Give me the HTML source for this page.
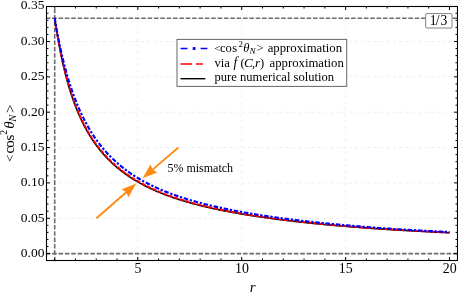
<!DOCTYPE html><html><head><meta charset="utf-8"><style>html,body{margin:0;padding:0;background:#fff}body{width:458px;height:295px;overflow:hidden;font-family:"Liberation Serif",serif}</style></head><body><svg width="458" height="295" viewBox="0 0 458 295" style="display:block;will-change:transform">
<rect x="0" y="0" width="458" height="295" fill="#fff"/>
<g stroke="#eeeeee" stroke-width="1" stroke-dasharray="3 3.3" fill="none"><line x1="137.82" y1="6.50" x2="137.82" y2="260.50"/><line x1="241.71" y1="6.50" x2="241.71" y2="260.50"/><line x1="345.61" y1="6.50" x2="345.61" y2="260.50"/><line x1="46.50" y1="218.25" x2="457.50" y2="218.25"/><line x1="46.50" y1="182.90" x2="457.50" y2="182.90"/><line x1="46.50" y1="147.55" x2="457.50" y2="147.55"/><line x1="46.50" y1="112.20" x2="457.50" y2="112.20"/><line x1="46.50" y1="76.85" x2="457.50" y2="76.85"/><line x1="46.50" y1="41.50" x2="457.50" y2="41.50"/></g>
<g stroke="#6c6c6c" stroke-width="1.6" stroke-dasharray="4.6 1.761" fill="none">
<line x1="54.70" y1="261.30" x2="54.70" y2="6.50"/>
<line x1="45.80" y1="18.18" x2="457.50" y2="18.18"/>
<line x1="45.80" y1="253.60" x2="457.50" y2="253.60"/>
</g>
<path d="M54.70 17.93 L54.73 18.12 L54.78 18.51 L54.86 19.03 L54.95 19.66 L55.06 20.40 L55.18 21.22 L55.31 22.12 L55.46 23.09 L55.61 24.13 L55.78 25.23 L55.96 26.39 L56.14 27.60 L56.34 28.85 L56.55 30.15 L56.76 31.49 L56.99 32.87 L57.22 34.28 L57.46 35.72 L57.71 37.19 L57.97 38.68 L58.24 40.20 L58.51 41.74 L58.79 43.29 L59.08 44.86 L59.38 46.45 L59.68 48.05 L59.99 49.66 L60.30 51.27 L60.63 52.90 L60.96 54.53 L61.30 56.16 L61.64 57.80 L61.99 59.44 L62.35 61.08 L62.71 62.72 L63.08 64.36 L63.45 66.00 L63.84 67.63 L64.22 69.26 L64.62 70.88 L65.02 72.50 L65.42 74.11 L65.83 75.71 L66.25 77.30 L66.67 78.89 L67.10 80.47 L67.54 82.03 L67.98 83.59 L68.42 85.14 L68.87 86.67 L69.33 88.20 L69.79 89.71 L70.26 91.21 L70.73 92.70 L71.21 94.18 L71.69 95.64 L72.18 97.10 L72.67 98.54 L73.17 99.96 L73.67 101.37 L74.18 102.77 L74.69 104.16 L75.21 105.53 L75.74 106.89 L76.26 108.24 L76.80 109.57 L77.34 110.89 L77.88 112.19 L78.43 113.49 L78.98 114.76 L79.54 116.03 L80.10 117.28 L80.67 118.52 L81.24 119.74 L81.81 120.95 L82.39 122.15 L82.98 123.33 L83.57 124.50 L84.16 125.66 L84.76 126.81 L85.37 127.94 L85.97 129.06 L86.59 130.16 L87.20 131.26 L87.82 132.34 L88.45 133.41 L89.08 134.46 L89.71 135.51 L90.35 136.54 L91.00 137.56 L91.64 138.57 L92.30 139.56 L92.95 140.55 L93.61 141.52 L94.28 142.49 L94.95 143.44 L95.62 144.38 L96.30 145.31 L96.98 146.22 L97.66 147.13 L98.35 148.03 L99.04 148.91 L99.74 149.79 L100.44 150.66 L101.15 151.51 L101.86 152.36 L102.57 153.19 L103.29 154.02 L104.01 154.84 L104.74 155.64 L105.47 156.44 L106.20 157.23 L106.94 158.01 L107.68 158.78 L108.43 159.54 L109.18 160.29 L109.93 161.04 L110.69 161.77 L111.45 162.50 L112.21 163.22 L112.98 163.93 L113.76 164.63 L114.53 165.32 L115.31 166.01 L116.10 166.69 L116.88 167.36 L117.67 168.02 L118.47 168.67 L119.27 169.32 L120.07 169.96 L120.88 170.60 L121.69 171.22 L122.50 171.84 L123.32 172.45 L124.14 173.06 L124.97 173.66 L125.79 174.25 L126.63 174.84 L127.46 175.42 L128.30 175.99 L129.14 176.56 L129.99 177.12 L130.84 177.67 L131.69 178.22 L132.55 178.76 L133.41 179.30 L134.28 179.83 L135.15 180.35 L136.02 180.87 L136.89 181.38 L137.77 181.89 L138.65 182.39 L139.54 182.89 L140.43 183.38 L141.32 183.87 L142.21 184.35 L143.11 184.83 L144.02 185.30 L144.92 185.76 L145.83 186.23 L146.75 186.68 L147.66 187.14 L148.58 187.58 L149.51 188.03 L150.43 188.46 L151.36 188.90 L152.29 189.33 L153.23 189.75 L154.17 190.17 L155.12 190.59 L156.06 191.00 L157.01 191.41 L157.97 191.81 L158.92 192.21 L159.88 192.61 L160.85 193.00 L161.81 193.38 L162.78 193.77 L163.76 194.15 L164.73 194.53 L165.71 194.90 L166.69 195.27 L167.68 195.63 L168.67 195.99 L169.66 196.35 L170.66 196.71 L171.66 197.06 L172.66 197.41 L173.67 197.75 L174.67 198.09 L175.69 198.43 L176.70 198.76 L177.72 199.10 L178.74 199.42 L179.77 199.75 L180.79 200.07 L181.82 200.39 L182.86 200.71 L183.90 201.02 L184.94 201.33 L185.98 201.64 L187.03 201.94 L188.08 202.25 L189.13 202.54 L190.18 202.84 L191.24 203.13 L192.30 203.42 L193.37 203.71 L194.44 204.00 L195.51 204.28 L196.58 204.56 L197.66 204.84 L198.74 205.12 L199.83 205.39 L200.91 205.66 L202.00 205.93 L203.09 206.19 L204.19 206.46 L205.29 206.72 L206.39 206.98 L207.49 207.24 L208.60 207.49 L209.71 207.74 L210.83 207.99 L211.94 208.24 L213.06 208.49 L214.19 208.73 L215.31 208.98 L216.44 209.22 L217.57 209.46 L218.71 209.69 L219.84 209.93 L220.98 210.16 L222.13 210.39 L223.27 210.62 L224.42 210.85 L225.57 211.08 L226.73 211.30 L227.89 211.52 L229.05 211.74 L230.21 211.96 L231.38 212.18 L232.55 212.39 L233.72 212.61 L234.90 212.82 L236.07 213.03 L237.26 213.24 L238.44 213.45 L239.63 213.65 L240.82 213.86 L242.01 214.06 L243.20 214.26 L244.40 214.46 L245.60 214.66 L246.81 214.86 L248.01 215.05 L249.22 215.24 L250.44 215.44 L251.65 215.63 L252.87 215.82 L254.09 216.01 L255.31 216.19 L256.54 216.38 L257.77 216.56 L259.00 216.75 L260.24 216.93 L261.48 217.11 L262.72 217.29 L263.96 217.46 L265.21 217.64 L266.45 217.82 L267.71 217.99 L268.96 218.16 L270.22 218.33 L271.48 218.51 L272.74 218.67 L274.01 218.84 L275.27 219.01 L276.54 219.17 L277.82 219.34 L279.09 219.50 L280.37 219.67 L281.65 219.83 L282.94 219.99 L284.23 220.15 L285.52 220.30 L286.81 220.46 L288.10 220.62 L289.40 220.77 L290.70 220.92 L292.01 221.08 L293.31 221.23 L294.62 221.38 L295.93 221.53 L297.25 221.68 L298.56 221.83 L299.88 221.97 L301.21 222.12 L302.53 222.26 L303.86 222.41 L305.19 222.55 L306.52 222.69 L307.86 222.83 L309.19 222.97 L310.54 223.11 L311.88 223.25 L313.23 223.38 L314.57 223.52 L315.92 223.66 L317.28 223.79 L318.64 223.92 L319.99 224.06 L321.36 224.19 L322.72 224.32 L324.09 224.45 L325.46 224.58 L326.83 224.71 L328.20 224.83 L329.58 224.96 L330.96 225.09 L332.34 225.21 L333.73 225.34 L335.12 225.46 L336.51 225.58 L337.90 225.70 L339.30 225.82 L340.69 225.94 L342.10 226.06 L343.50 226.18 L344.90 226.30 L346.31 226.42 L347.72 226.53 L349.14 226.65 L350.55 226.76 L351.97 226.88 L353.39 226.99 L354.82 227.10 L356.24 227.21 L357.67 227.32 L359.10 227.43 L360.54 227.54 L361.97 227.65 L363.41 227.76 L364.85 227.86 L366.30 227.97 L367.74 228.08 L369.19 228.18 L370.64 228.28 L372.10 228.39 L373.55 228.49 L375.01 228.59 L376.47 228.69 L377.94 228.79 L379.40 228.89 L380.87 228.99 L382.34 229.09 L383.82 229.19 L385.29 229.28 L386.77 229.38 L388.25 229.47 L389.74 229.57 L391.22 229.66 L392.71 229.75 L394.20 229.85 L395.70 229.94 L397.19 230.03 L398.69 230.12 L400.19 230.21 L401.70 230.30 L403.20 230.39 L404.71 230.47 L406.22 230.56 L407.73 230.65 L409.25 230.73 L410.77 230.82 L412.29 230.90 L413.81 230.98 L415.34 231.07 L416.86 231.15 L418.39 231.23 L419.93 231.31 L421.46 231.39 L423.00 231.48 L424.54 231.56 L426.08 231.64 L427.62 231.71 L429.17 231.79 L430.72 231.87 L432.27 231.95 L433.83 232.03 L435.38 232.10 L436.94 232.18 L438.50 232.26 L440.07 232.33 L441.63 232.41 L443.20 232.48 L444.77 232.56 L446.35 232.63 L447.92 232.71 L449.50 232.78" fill="none" stroke="#000" stroke-width="1.6"/>
<path d="M54.70 17.93 L54.73 18.12 L54.78 18.49 L54.86 19.00 L54.95 19.62 L55.06 20.34 L55.18 21.14 L55.31 22.02 L55.46 22.98 L55.61 23.99 L55.78 25.07 L55.96 26.20 L56.14 27.38 L56.34 28.61 L56.55 29.89 L56.76 31.20 L56.99 32.55 L57.22 33.93 L57.46 35.34 L57.71 36.78 L57.97 38.25 L58.24 39.74 L58.51 41.25 L58.79 42.78 L59.08 44.32 L59.38 45.88 L59.68 47.45 L59.99 49.03 L60.30 50.63 L60.63 52.23 L60.96 53.83 L61.30 55.45 L61.64 57.06 L61.99 58.68 L62.35 60.30 L62.71 61.92 L63.08 63.53 L63.45 65.15 L63.84 66.76 L64.22 68.37 L64.62 69.98 L65.02 71.58 L65.42 73.17 L65.83 74.76 L66.25 76.34 L66.67 77.91 L67.10 79.47 L67.54 81.03 L67.98 82.57 L68.42 84.11 L68.87 85.63 L69.33 87.15 L69.79 88.65 L70.26 90.15 L70.73 91.63 L71.21 93.10 L71.69 94.56 L72.18 96.00 L72.67 97.44 L73.17 98.86 L73.67 100.27 L74.18 101.66 L74.69 103.04 L75.21 104.41 L75.74 105.77 L76.26 107.11 L76.80 108.45 L77.34 109.76 L77.88 111.07 L78.43 112.36 L78.98 113.64 L79.54 114.90 L80.10 116.15 L80.67 117.39 L81.24 118.62 L81.81 119.83 L82.39 121.03 L82.98 122.22 L83.57 123.39 L84.16 124.55 L84.76 125.70 L85.37 126.83 L85.97 127.96 L86.59 129.07 L87.20 130.16 L87.82 131.25 L88.45 132.32 L89.08 133.38 L89.71 134.43 L90.35 135.47 L91.00 136.49 L91.64 137.51 L92.30 138.51 L92.95 139.50 L93.61 140.48 L94.28 141.45 L94.95 142.40 L95.62 143.35 L96.30 144.28 L96.98 145.21 L97.66 146.12 L98.35 147.02 L99.04 147.92 L99.74 148.80 L100.44 149.67 L101.15 150.53 L101.86 151.38 L102.57 152.23 L103.29 153.06 L104.01 153.88 L104.74 154.69 L105.47 155.50 L106.20 156.29 L106.94 157.08 L107.68 157.85 L108.43 158.62 L109.18 159.38 L109.93 160.13 L110.69 160.87 L111.45 161.60 L112.21 162.33 L112.98 163.05 L113.76 163.75 L114.53 164.45 L115.31 165.15 L116.10 165.83 L116.88 166.51 L117.67 167.17 L118.47 167.84 L119.27 168.49 L120.07 169.14 L120.88 169.78 L121.69 170.41 L122.50 171.03 L123.32 171.65 L124.14 172.26 L124.97 172.87 L125.79 173.46 L126.63 174.05 L127.46 174.64 L128.30 175.22 L129.14 175.79 L129.99 176.35 L130.84 176.91 L131.69 177.47 L132.55 178.01 L133.41 178.56 L134.28 179.09 L135.15 179.62 L136.02 180.15 L136.89 180.66 L137.77 181.18 L138.65 181.68 L139.54 182.19 L140.43 182.68 L141.32 183.17 L142.21 183.66 L143.11 184.14 L144.02 184.62 L144.92 185.09 L145.83 185.55 L146.75 186.02 L147.66 186.47 L148.58 186.92 L149.51 187.37 L150.43 187.81 L151.36 188.25 L152.29 188.68 L153.23 189.11 L154.17 189.54 L155.12 189.96 L156.06 190.37 L157.01 190.79 L157.97 191.19 L158.92 191.60 L159.88 192.00 L160.85 192.39 L161.81 192.78 L162.78 193.17 L163.76 193.55 L164.73 193.93 L165.71 194.31 L166.69 194.68 L167.68 195.05 L168.67 195.42 L169.66 195.78 L170.66 196.14 L171.66 196.49 L172.66 196.84 L173.67 197.19 L174.67 197.54 L175.69 197.88 L176.70 198.22 L177.72 198.55 L178.74 198.88 L179.77 199.21 L180.79 199.54 L181.82 199.86 L182.86 200.18 L183.90 200.50 L184.94 200.81 L185.98 201.12 L187.03 201.43 L188.08 201.73 L189.13 202.03 L190.18 202.33 L191.24 202.63 L192.30 202.92 L193.37 203.21 L194.44 203.50 L195.51 203.79 L196.58 204.07 L197.66 204.35 L198.74 204.63 L199.83 204.91 L200.91 205.18 L202.00 205.45 L203.09 205.72 L204.19 205.99 L205.29 206.25 L206.39 206.51 L207.49 206.77 L208.60 207.03 L209.71 207.28 L210.83 207.54 L211.94 207.79 L213.06 208.04 L214.19 208.29 L215.31 208.53 L216.44 208.77 L217.57 209.02 L218.71 209.25 L219.84 209.49 L220.98 209.73 L222.13 209.96 L223.27 210.19 L224.42 210.42 L225.57 210.65 L226.73 210.88 L227.89 211.10 L229.05 211.32 L230.21 211.55 L231.38 211.76 L232.55 211.98 L233.72 212.20 L234.90 212.41 L236.07 212.62 L237.26 212.84 L238.44 213.05 L239.63 213.25 L240.82 213.46 L242.01 213.66 L243.20 213.87 L244.40 214.07 L245.60 214.27 L246.81 214.47 L248.01 214.67 L249.22 214.86 L250.44 215.06 L251.65 215.25 L252.87 215.44 L254.09 215.63 L255.31 215.82 L256.54 216.01 L257.77 216.19 L259.00 216.38 L260.24 216.56 L261.48 216.74 L262.72 216.92 L263.96 217.10 L265.21 217.28 L266.45 217.46 L267.71 217.63 L268.96 217.81 L270.22 217.98 L271.48 218.15 L272.74 218.33 L274.01 218.49 L275.27 218.66 L276.54 218.83 L277.82 219.00 L279.09 219.16 L280.37 219.33 L281.65 219.49 L282.94 219.65 L284.23 219.81 L285.52 219.97 L286.81 220.13 L288.10 220.29 L289.40 220.44 L290.70 220.60 L292.01 220.75 L293.31 220.91 L294.62 221.06 L295.93 221.21 L297.25 221.36 L298.56 221.51 L299.88 221.66 L301.21 221.80 L302.53 221.95 L303.86 222.09 L305.19 222.24 L306.52 222.38 L307.86 222.52 L309.19 222.66 L310.54 222.80 L311.88 222.94 L313.23 223.08 L314.57 223.22 L315.92 223.36 L317.28 223.49 L318.64 223.63 L319.99 223.76 L321.36 223.89 L322.72 224.03 L324.09 224.16 L325.46 224.29 L326.83 224.42 L328.20 224.55 L329.58 224.67 L330.96 224.80 L332.34 224.93 L333.73 225.05 L335.12 225.18 L336.51 225.30 L337.90 225.42 L339.30 225.55 L340.69 225.67 L342.10 225.79 L343.50 225.91 L344.90 226.03 L346.31 226.14 L347.72 226.26 L349.14 226.38 L350.55 226.49 L351.97 226.61 L353.39 226.72 L354.82 226.84 L356.24 226.95 L357.67 227.06 L359.10 227.17 L360.54 227.28 L361.97 227.39 L363.41 227.50 L364.85 227.61 L366.30 227.71 L367.74 227.82 L369.19 227.93 L370.64 228.03 L372.10 228.14 L373.55 228.24 L375.01 228.34 L376.47 228.44 L377.94 228.54 L379.40 228.65 L380.87 228.74 L382.34 228.84 L383.82 228.94 L385.29 229.04 L386.77 229.14 L388.25 229.23 L389.74 229.33 L391.22 229.42 L392.71 229.52 L394.20 229.61 L395.70 229.70 L397.19 229.79 L398.69 229.88 L400.19 229.98 L401.70 230.06 L403.20 230.15 L404.71 230.24 L406.22 230.33 L407.73 230.42 L409.25 230.50 L410.77 230.59 L412.29 230.67 L413.81 230.76 L415.34 230.84 L416.86 230.92 L418.39 231.01 L419.93 231.09 L421.46 231.17 L423.00 231.25 L424.54 231.33 L426.08 231.42 L427.62 231.50 L429.17 231.58 L430.72 231.65 L432.27 231.73 L433.83 231.81 L435.38 231.89 L436.94 231.97 L438.50 232.04 L440.07 232.12 L441.63 232.20 L443.20 232.27 L444.77 232.35 L446.35 232.42 L447.92 232.50 L449.50 232.57" fill="none" stroke="#ff0000" stroke-width="1.9" stroke-dasharray="4.2 1.7"/>
<path d="M54.70 17.93 L54.73 18.10 L54.78 18.43 L54.86 18.89 L54.95 19.44 L55.06 20.09 L55.18 20.81 L55.31 21.60 L55.46 22.45 L55.61 23.37 L55.78 24.33 L55.96 25.36 L56.14 26.42 L56.34 27.53 L56.55 28.69 L56.76 29.88 L56.99 31.10 L57.22 32.36 L57.46 33.65 L57.71 34.96 L57.97 36.30 L58.24 37.67 L58.51 39.05 L58.79 40.46 L59.08 41.88 L59.38 43.32 L59.68 44.77 L59.99 46.24 L60.30 47.72 L60.63 49.20 L60.96 50.70 L61.30 52.21 L61.64 53.72 L61.99 55.23 L62.35 56.75 L62.71 58.28 L63.08 59.80 L63.45 61.33 L63.84 62.86 L64.22 64.39 L64.62 65.91 L65.02 67.44 L65.42 68.96 L65.83 70.48 L66.25 71.99 L66.67 73.50 L67.10 75.00 L67.54 76.50 L67.98 77.99 L68.42 79.48 L68.87 80.96 L69.33 82.43 L69.79 83.89 L70.26 85.35 L70.73 86.79 L71.21 88.23 L71.69 89.66 L72.18 91.08 L72.67 92.49 L73.17 93.89 L73.67 95.27 L74.18 96.65 L74.69 98.02 L75.21 99.38 L75.74 100.72 L76.26 102.06 L76.80 103.38 L77.34 104.70 L77.88 106.00 L78.43 107.29 L78.98 108.57 L79.54 109.83 L80.10 111.09 L80.67 112.33 L81.24 113.57 L81.81 114.79 L82.39 116.00 L82.98 117.19 L83.57 118.38 L84.16 119.55 L84.76 120.71 L85.37 121.86 L85.97 123.00 L86.59 124.13 L87.20 125.25 L87.82 126.35 L88.45 127.44 L89.08 128.53 L89.71 129.60 L90.35 130.66 L91.00 131.70 L91.64 132.74 L92.30 133.77 L92.95 134.78 L93.61 135.78 L94.28 136.78 L94.95 137.76 L95.62 138.73 L96.30 139.69 L96.98 140.64 L97.66 141.58 L98.35 142.51 L99.04 143.43 L99.74 144.34 L100.44 145.24 L101.15 146.13 L101.86 147.01 L102.57 147.88 L103.29 148.74 L104.01 149.59 L104.74 150.43 L105.47 151.26 L106.20 152.08 L106.94 152.90 L107.68 153.70 L108.43 154.49 L109.18 155.28 L109.93 156.06 L110.69 156.83 L111.45 157.59 L112.21 158.34 L112.98 159.08 L113.76 159.82 L114.53 160.55 L115.31 161.26 L116.10 161.98 L116.88 162.68 L117.67 163.37 L118.47 164.06 L119.27 164.74 L120.07 165.41 L120.88 166.08 L121.69 166.74 L122.50 167.39 L123.32 168.03 L124.14 168.67 L124.97 169.30 L125.79 169.92 L126.63 170.54 L127.46 171.14 L128.30 171.75 L129.14 172.34 L129.99 172.93 L130.84 173.52 L131.69 174.09 L132.55 174.66 L133.41 175.23 L134.28 175.79 L135.15 176.34 L136.02 176.88 L136.89 177.43 L137.77 177.96 L138.65 178.49 L139.54 179.01 L140.43 179.53 L141.32 180.04 L142.21 180.55 L143.11 181.05 L144.02 181.55 L144.92 182.04 L145.83 182.53 L146.75 183.01 L147.66 183.49 L148.58 183.96 L149.51 184.42 L150.43 184.89 L151.36 185.34 L152.29 185.80 L153.23 186.24 L154.17 186.69 L155.12 187.13 L156.06 187.56 L157.01 187.99 L157.97 188.41 L158.92 188.84 L159.88 189.25 L160.85 189.67 L161.81 190.08 L162.78 190.48 L163.76 190.88 L164.73 191.28 L165.71 191.67 L166.69 192.06 L167.68 192.45 L168.67 192.83 L169.66 193.21 L170.66 193.58 L171.66 193.96 L172.66 194.32 L173.67 194.69 L174.67 195.05 L175.69 195.41 L176.70 195.76 L177.72 196.11 L178.74 196.46 L179.77 196.80 L180.79 197.15 L181.82 197.48 L182.86 197.82 L183.90 198.15 L184.94 198.48 L185.98 198.81 L187.03 199.13 L188.08 199.45 L189.13 199.77 L190.18 200.08 L191.24 200.39 L192.30 200.70 L193.37 201.01 L194.44 201.31 L195.51 201.61 L196.58 201.91 L197.66 202.20 L198.74 202.50 L199.83 202.79 L200.91 203.08 L202.00 203.36 L203.09 203.64 L204.19 203.92 L205.29 204.20 L206.39 204.48 L207.49 204.75 L208.60 205.02 L209.71 205.29 L210.83 205.56 L211.94 205.83 L213.06 206.09 L214.19 206.35 L215.31 206.61 L216.44 206.86 L217.57 207.12 L218.71 207.37 L219.84 207.62 L220.98 207.87 L222.13 208.12 L223.27 208.36 L224.42 208.61 L225.57 208.85 L226.73 209.09 L227.89 209.32 L229.05 209.56 L230.21 209.79 L231.38 210.03 L232.55 210.26 L233.72 210.48 L234.90 210.71 L236.07 210.94 L237.26 211.16 L238.44 211.38 L239.63 211.60 L240.82 211.82 L242.01 212.04 L243.20 212.25 L244.40 212.47 L245.60 212.68 L246.81 212.89 L248.01 213.10 L249.22 213.31 L250.44 213.51 L251.65 213.72 L252.87 213.92 L254.09 214.12 L255.31 214.32 L256.54 214.52 L257.77 214.72 L259.00 214.91 L260.24 215.11 L261.48 215.30 L262.72 215.49 L263.96 215.68 L265.21 215.87 L266.45 216.06 L267.71 216.25 L268.96 216.43 L270.22 216.62 L271.48 216.80 L272.74 216.98 L274.01 217.16 L275.27 217.34 L276.54 217.52 L277.82 217.70 L279.09 217.87 L280.37 218.05 L281.65 218.22 L282.94 218.39 L284.23 218.56 L285.52 218.73 L286.81 218.90 L288.10 219.07 L289.40 219.23 L290.70 219.40 L292.01 219.56 L293.31 219.73 L294.62 219.89 L295.93 220.05 L297.25 220.21 L298.56 220.37 L299.88 220.52 L301.21 220.68 L302.53 220.84 L303.86 220.99 L305.19 221.14 L306.52 221.30 L307.86 221.45 L309.19 221.60 L310.54 221.75 L311.88 221.89 L313.23 222.04 L314.57 222.19 L315.92 222.33 L317.28 222.48 L318.64 222.62 L319.99 222.76 L321.36 222.90 L322.72 223.05 L324.09 223.18 L325.46 223.32 L326.83 223.46 L328.20 223.60 L329.58 223.73 L330.96 223.87 L332.34 224.00 L333.73 224.14 L335.12 224.27 L336.51 224.40 L337.90 224.53 L339.30 224.66 L340.69 224.79 L342.10 224.92 L343.50 225.04 L344.90 225.17 L346.31 225.29 L347.72 225.42 L349.14 225.54 L350.55 225.66 L351.97 225.79 L353.39 225.91 L354.82 226.03 L356.24 226.15 L357.67 226.26 L359.10 226.38 L360.54 226.50 L361.97 226.61 L363.41 226.73 L364.85 226.84 L366.30 226.96 L367.74 227.07 L369.19 227.18 L370.64 227.29 L372.10 227.40 L373.55 227.51 L375.01 227.62 L376.47 227.73 L377.94 227.83 L379.40 227.94 L380.87 228.04 L382.34 228.15 L383.82 228.25 L385.29 228.36 L386.77 228.46 L388.25 228.56 L389.74 228.66 L391.22 228.76 L392.71 228.86 L394.20 228.95 L395.70 229.05 L397.19 229.15 L398.69 229.24 L400.19 229.34 L401.70 229.43 L403.20 229.53 L404.71 229.62 L406.22 229.71 L407.73 229.80 L409.25 229.89 L410.77 229.98 L412.29 230.07 L413.81 230.16 L415.34 230.24 L416.86 230.33 L418.39 230.42 L419.93 230.50 L421.46 230.59 L423.00 230.67 L424.54 230.76 L426.08 230.84 L427.62 230.93 L429.17 231.01 L430.72 231.09 L432.27 231.17 L433.83 231.25 L435.38 231.33 L436.94 231.41 L438.50 231.49 L440.07 231.57 L441.63 231.65 L443.20 231.73 L444.77 231.81 L446.35 231.88 L447.92 231.96 L449.50 232.04" fill="none" stroke="#0000ff" stroke-width="2.1" stroke-dasharray="4.6 1.7 2.3 1.7"/>
<line x1="178.40" y1="147.50" x2="152.32" y2="169.87" stroke="#ff8a14" stroke-width="1.90"/><polygon points="142.60,178.20 150.45,164.62 152.71,169.53 157.22,172.51" fill="#ff8a14"/>
<line x1="96.40" y1="218.20" x2="126.55" y2="191.91" stroke="#ff8a14" stroke-width="1.90"/><polygon points="136.20,183.50 128.46,197.15 126.16,192.25 121.63,189.31" fill="#ff8a14"/>
<path d="M54.70 260.50 v-2.00 M54.70 6.50 v2.00 M75.48 260.50 v-2.00 M75.48 6.50 v2.00 M96.26 260.50 v-2.00 M96.26 6.50 v2.00 M117.04 260.50 v-2.00 M117.04 6.50 v2.00 M137.82 260.50 v-3.50 M137.82 6.50 v3.50 M158.59 260.50 v-2.00 M158.59 6.50 v2.00 M179.37 260.50 v-2.00 M179.37 6.50 v2.00 M200.15 260.50 v-2.00 M200.15 6.50 v2.00 M220.93 260.50 v-2.00 M220.93 6.50 v2.00 M241.71 260.50 v-3.50 M241.71 6.50 v3.50 M262.49 260.50 v-2.00 M262.49 6.50 v2.00 M283.27 260.50 v-2.00 M283.27 6.50 v2.00 M304.05 260.50 v-2.00 M304.05 6.50 v2.00 M324.83 260.50 v-2.00 M324.83 6.50 v2.00 M345.61 260.50 v-3.50 M345.61 6.50 v3.50 M366.38 260.50 v-2.00 M366.38 6.50 v2.00 M387.16 260.50 v-2.00 M387.16 6.50 v2.00 M407.94 260.50 v-2.00 M407.94 6.50 v2.00 M428.72 260.50 v-2.00 M428.72 6.50 v2.00 M449.50 260.50 v-3.50 M449.50 6.50 v3.50 M46.50 253.60 h3.50 M457.50 253.60 h-3.50 M46.50 246.53 h2.00 M457.50 246.53 h-2.00 M46.50 239.46 h2.00 M457.50 239.46 h-2.00 M46.50 232.39 h2.00 M457.50 232.39 h-2.00 M46.50 225.32 h2.00 M457.50 225.32 h-2.00 M46.50 218.25 h3.50 M457.50 218.25 h-3.50 M46.50 211.18 h2.00 M457.50 211.18 h-2.00 M46.50 204.11 h2.00 M457.50 204.11 h-2.00 M46.50 197.04 h2.00 M457.50 197.04 h-2.00 M46.50 189.97 h2.00 M457.50 189.97 h-2.00 M46.50 182.90 h3.50 M457.50 182.90 h-3.50 M46.50 175.83 h2.00 M457.50 175.83 h-2.00 M46.50 168.76 h2.00 M457.50 168.76 h-2.00 M46.50 161.69 h2.00 M457.50 161.69 h-2.00 M46.50 154.62 h2.00 M457.50 154.62 h-2.00 M46.50 147.55 h3.50 M457.50 147.55 h-3.50 M46.50 140.48 h2.00 M457.50 140.48 h-2.00 M46.50 133.41 h2.00 M457.50 133.41 h-2.00 M46.50 126.34 h2.00 M457.50 126.34 h-2.00 M46.50 119.27 h2.00 M457.50 119.27 h-2.00 M46.50 112.20 h3.50 M457.50 112.20 h-3.50 M46.50 105.13 h2.00 M457.50 105.13 h-2.00 M46.50 98.06 h2.00 M457.50 98.06 h-2.00 M46.50 90.99 h2.00 M457.50 90.99 h-2.00 M46.50 83.92 h2.00 M457.50 83.92 h-2.00 M46.50 76.85 h3.50 M457.50 76.85 h-3.50 M46.50 69.78 h2.00 M457.50 69.78 h-2.00 M46.50 62.71 h2.00 M457.50 62.71 h-2.00 M46.50 55.64 h2.00 M457.50 55.64 h-2.00 M46.50 48.57 h2.00 M457.50 48.57 h-2.00 M46.50 41.50 h3.50 M457.50 41.50 h-3.50 M46.50 34.43 h2.00 M457.50 34.43 h-2.00 M46.50 27.36 h2.00 M457.50 27.36 h-2.00 M46.50 20.29 h2.00 M457.50 20.29 h-2.00 M46.50 13.22 h2.00 M457.50 13.22 h-2.00" stroke="#000" stroke-width="1" fill="none"/>
<rect x="46.50" y="6.50" width="411.00" height="254.00" fill="none" stroke="#000" stroke-width="1.1"/>
<g font-family="Liberation Serif, serif" font-size="13.5" fill="#000">
<text x="44.40" y="256.90" text-anchor="end">0.00</text>
<text x="44.40" y="221.55" text-anchor="end">0.05</text>
<text x="44.40" y="186.20" text-anchor="end">0.10</text>
<text x="44.40" y="150.85" text-anchor="end">0.15</text>
<text x="44.40" y="115.50" text-anchor="end">0.20</text>
<text x="44.40" y="80.15" text-anchor="end">0.25</text>
<text x="44.40" y="44.80" text-anchor="end">0.30</text>
<text x="44.40" y="9.45" text-anchor="end">0.35</text>
<text x="138.02" y="273.20" text-anchor="middle" font-size="13.9">5</text>
<text x="241.91" y="273.20" text-anchor="middle" font-size="13.9">10</text>
<text x="345.81" y="273.20" text-anchor="middle" font-size="13.9">15</text>
<text x="449.70" y="273.20" text-anchor="middle" font-size="13.9">20</text>
</g>
<text x="252.6" y="291.6" text-anchor="middle" font-family="Liberation Serif, serif" font-style="italic" font-size="15">r</text>
<g transform="translate(14.2,161.9) rotate(-90)" font-family="Liberation Serif, serif" font-size="15" fill="#000">
<text x="0.2" y="-0.2" font-size="12.4">&lt;</text>
<text x="8.3" y="0">c</text>
<text x="14.2" y="0">o</text>
<text x="21.3" y="0">s</text>
<text x="27.2" y="-7.4" font-size="9.5">2</text>
<text x="33.2" y="0" font-style="italic">θ</text>
<text x="40.2" y="1.9" font-size="10.5" font-style="italic">N</text>
<text x="48.8" y="0.6" font-size="15">&gt;</text>
</g>
<text x="167.4" y="171.9" font-family="Liberation Serif, serif" font-size="12" fill="#000">5% mismatch</text>
<rect x="425.7" y="13.6" width="26.3" height="14.4" rx="1" fill="#fff" stroke="#808080" stroke-width="1"/>
<g font-family="Liberation Serif, serif" font-size="13.6" fill="#000"><text x="429.7" y="24.6">1</text><text x="435.7" y="24.6">/</text><text x="440.6" y="24.6">3</text></g>
<rect x="177.0" y="39.4" width="169.7" height="47" fill="#fff" stroke="#666" stroke-width="1"/>
<path d="M180.6 48.5 H187.5 M200.6 48.5 H207.4" stroke="#0000ff" stroke-width="1.5" fill="none"/>
<rect x="192.7" y="47.1" width="2.8" height="2.8" fill="#0000ff"/>
<path d="M180.5 64 H192.2 M196 64 H202.9" stroke="#ff0000" stroke-width="1.4" fill="none"/>
<line x1="180.5" y1="78.7" x2="205.4" y2="78.7" stroke="#000" stroke-width="1.4"/>
<g font-family="Liberation Serif, serif" font-size="12.6" fill="#000">
<text x="214.20" y="52.00" font-size="11.20">&lt;</text>
<text x="220.00" y="52.00">c</text>
<text x="225.40" y="52.00">o</text>
<text x="232.20" y="52.00">s</text>
<text x="238.60" y="46.80" font-size="8.80">2</text>
<text x="243.20" y="52.00" font-style="italic">θ</text>
<text x="249.60" y="54.00" font-size="9.20" font-style="italic">N</text>
<text x="256.60" y="52.00">&gt;</text>
<text x="267.70" y="52.00" font-size="12.75">approximation</text>
<text x="214.50" y="66.70">via</text>
<text x="233.60" y="66.70" font-size="13.60" font-style="italic">f</text>
<text x="240.60" y="66.70">(</text>
<text x="244.00" y="66.70" font-size="13.20" font-style="italic">C</text>
<text x="252.00" y="66.70">,</text>
<text x="255.00" y="66.70" font-size="13.20" font-style="italic">r</text>
<text x="260.00" y="66.70">)</text>
<text x="269.50" y="66.70" font-size="12.75">approximation</text>
<text x="214.5" y="80.7">pure numerical solution</text>
</g>
</svg></body></html>
